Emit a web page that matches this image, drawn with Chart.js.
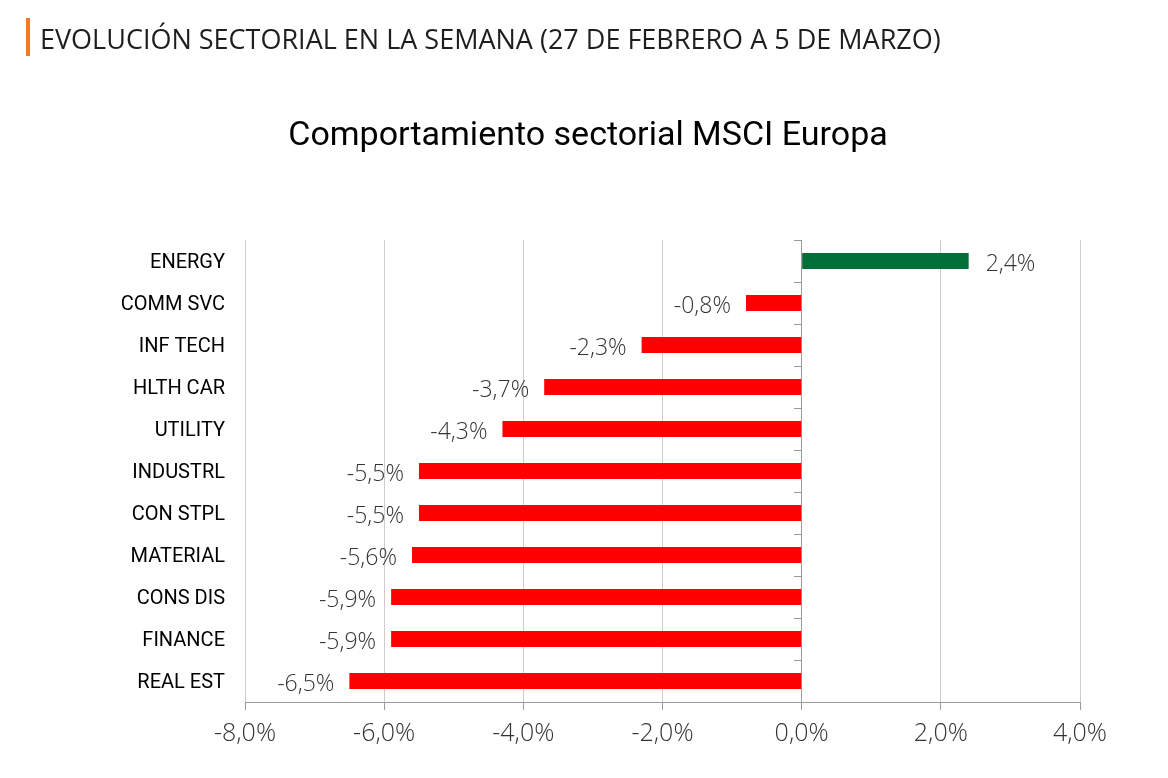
<!DOCTYPE html>
<html>
<head>
<meta charset="utf-8">
<script src="https://cdn.jsdelivr.net/npm/chart.js"></script>
<style>
  body { margin: 0; background: #fff; }
  #wrap { position: relative; width: 1168px; height: 778px; }
  #chart { position: absolute; left: 0; top: 0; }
  .header {
    position: absolute; left: 26px; top: 18px; height: 38px; line-height: 42px;
    border-left: 4px solid #f47b20; padding-left: 10px;
    font-family: "Open Sans", sans-serif; font-size: 27px; color: #1e1e1e;
  }
  .title {
    position: absolute; left: 0; width: 1176px; top: 113px; text-align: center;
    font-family: Roboto, sans-serif; font-size: 34px; color: #000;
  }
</style>
</head>
<body>
<div id="wrap">
  <canvas id="chart" width="1168" height="778"></canvas>
  <div class="header">EVOLUCIÓN SECTORIAL EN LA SEMANA (27 DE FEBRERO A 5 DE MARZO)</div>
  <div class="title">Comportamiento sectorial MSCI Europa</div>
</div>
<script>
const sectors = ['ENERGY', 'COMM SVC', 'INF TECH', 'HLTH CAR', 'UTILITY', 'INDUSTRL',
                 'CON STPL', 'MATERIAL', 'CONS DIS', 'FINANCE', 'REAL EST'];
const weekChange = [2.4, -0.8, -2.3, -3.7, -4.3, -5.5, -5.5, -5.6, -5.9, -5.9, -6.5];
const xTicks = [-8, -6, -4, -2, 0, 2, 4];

const fmt = v => v.toFixed(1).replace('.', ',') + '%';

// etiquetas de valor al final de cada barra
const valueLabels = {
  id: 'valueLabels',
  afterDatasetsDraw(chart) {
    const ctx = chart.ctx;
    const meta = chart.getDatasetMeta(0);
    ctx.save();
    ctx.font = '300 23px "Open Sans"';
    ctx.fillStyle = '#333';
    ctx.textBaseline = 'middle';
    meta.data.forEach((bar, i) => {
      const v = weekChange[i];
      if (v >= 0) {
        ctx.textAlign = 'left';
        ctx.fillText(fmt(v), bar.x + 17, bar.y + 3);
      } else {
        ctx.textAlign = 'right';
        ctx.fillText(fmt(v), bar.x - 15, bar.y + 3);
      }
    });
    ctx.restore();
  }
};

new Chart(document.getElementById('chart'), {
  type: 'bar',
  data: {
    labels: sectors,
    datasets: [{
      data: weekChange,
      yAxisID: 'y',
      backgroundColor: weekChange.map(v => v >= 0 ? '#006f37' : '#ff0000'),
      borderWidth: 0,
      barPercentage: 0.38,
      categoryPercentage: 1
    }]
  },
  options: {
    indexAxis: 'y',
    responsive: false,
    animation: false,
    layout: { padding: { top: 240, right: 88, left: 0, bottom: 0 } },
    plugins: { legend: { display: false }, tooltip: { enabled: false } },
    scales: {
      x: {
        min: -8, max: 4,
        afterBuildTicks: s => { s.ticks = xTicks.map(v => ({ value: v })); },
        afterFit: s => { s.height = 76; },
        grid: { color: '#cdcdcd', tickColor: '#9a9a9a', tickLength: 8 },
        border: { color: '#9a9a9a' },
        ticks: {
          padding: 9,
          color: '#333',
          font: { family: 'Open Sans', size: 25, weight: 300 },
          callback: v => fmt(v)
        }
      },
      y: {
        afterFit: s => { s.width = 245; },
        grid: { display: false, drawTicks: false },
        border: { display: false },
        ticks: {
          padding: 20,
          labelOffset: 2,
          color: '#000',
          font: { family: 'Roboto', size: 20 }
        }
      },
      y2: {
        type: 'category',
        axis: 'y',
        position: { x: 0 },
        offset: true,
        grid: { offset: true, drawOnChartArea: false, tickLength: 7, color: '#9a9a9a' },
        border: { color: '#9a9a9a' },
        ticks: { display: false }
      }
    }
  },
  plugins: [valueLabels]
});
</script>
</body>
</html>
